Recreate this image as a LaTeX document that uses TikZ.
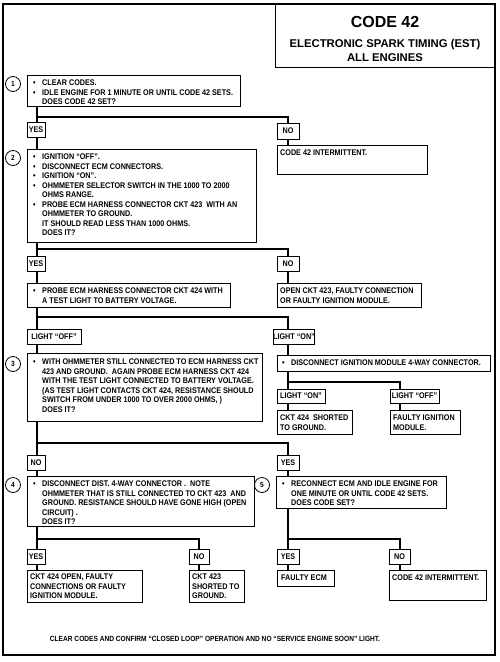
\documentclass[tikz,border=0pt]{standalone}
\usepackage{fontspec}
\setmainfont{Liberation Sans}[FakeStretch=0.88]
\newfontfamily\titlefont{Liberation Sans}
\usetikzlibrary{calc}
\newcommand\bl{\makebox[9pt][l]{\textbullet}}
\newcommand\ind{\hspace*{9pt}}
\newcommand\bx[5]{\node[box, minimum width={#4-#2}, minimum height={#5-#3}] (#1) at ({(#2+#4)/2},{(#3+#5)/2}) {};}
\newcommand\lb[6]{\node[box, font=\bodyfont, minimum width={#4-#2}, minimum height={#5-#3}] (#1) at ({(#2+#4)/2},{(#3+#5)/2}) {#6};}
\newcommand\bodyfont{\fontsize{8.2}{9.5}\selectfont\bfseries}
\begin{document}
\begin{tikzpicture}[x=1pt,y=-1pt,
  box/.style={draw, line width=0.8pt, inner sep=0pt, rectangle},
  conn/.style={line width=2pt},
  txt/.style={inner sep=0pt, anchor=north west, align=left, font=\bodyfont},
  num/.style={draw, circle, line width=0.8pt, minimum size=15pt, inner sep=0pt, font=\fontsize{7.5}{8}\selectfont\bfseries}]
\useasboundingbox (0,0) rectangle (500,662);
% frame and title
\draw[line width=1.2pt] (3,4) rectangle (495,655);
\draw[line width=0.9pt] (275,4) -- (275,67) -- (495,67);
\node[font={\titlefont\fontsize{16}{18}\selectfont\bfseries}] (t1) at (385,22) {CODE 42};
\node[font={\titlefont\fontsize{11.3}{13}\selectfont\bfseries}] (t2) at (385,45) {ELECTRONIC SPARK TIMING (EST)};
\node[font={\titlefont\fontsize{11.3}{13}\selectfont\bfseries}] (t3) at (385,58) {ALL ENGINES};
% column coordinates
\coordinate (L) at (37,0);
\coordinate (R) at (288,0);
\coordinate (M) at (400,0);
\coordinate (N) at (199,0);
% step 1
\node[num] (c1) at (13,84) {1};
\bx{b1}{27}{75}{240}{106}
\node[txt] (tb1) at (33,80) {\bl CLEAR CODES.\\ \bl IDLE ENGINE FOR 1 MINUTE OR UNTIL CODE 42 SETS.\\ \ind DOES CODE 42 SET?};
\lb{yes1}{27}{122}{45}{137}{YES}
\lb{no1}{277}{123}{299}{139}{NO}
\bx{r1}{277}{145}{427}{174}
\node[txt] (tr1) at (280,150) {CODE 42 INTERMITTENT.};
\coordinate (h1) at (0,117);
\draw[conn] (b1.south -| L) -- (yes1.north -| L);
\draw[conn] (h1 -| L) -- (h1 -| R) -- (no1.north -| R);
\draw[conn] (no1.south -| R) -- (r1.north -| R);
% step 2
\node[num] (c2) at (13,158) {2};
\bx{b2}{27}{149}{256}{242}
\node[txt] (tb2) at (33,154) {\bl IGNITION ``OFF''.\\ \bl DISCONNECT ECM CONNECTORS.\\ \bl IGNITION ``ON''.\\ \bl OHMMETER SELECTOR SWITCH IN THE 1000 TO 2000\\ \ind OHMS RANGE.\\ \bl PROBE ECM HARNESS CONNECTOR CKT 423 \ WITH AN\\ \ind OHMMETER TO GROUND.\\ \ind IT SHOULD READ LESS THAN 1000 OHMS.\\ \ind DOES IT?};
\draw[conn] (yes1.south -| L) -- (b2.north -| L);
\lb{yes2}{27}{256}{45}{271}{YES}
\lb{no2}{277}{256}{299}{271}{NO}
\coordinate (h2) at (0,249);
\draw[conn] (b2.south -| L) -- (yes2.north -| L);
\draw[conn] (h2 -| L) -- (h2 -| R) -- (no2.north -| R);
% probe and open
\bx{p1}{27}{283}{230}{307}
\node[txt] (tp1) at (33,288) {\bl PROBE ECM HARNESS CONNECTOR CKT 424 WITH\\ \ind A TEST LIGHT TO BATTERY VOLTAGE.};
\bx{o1}{277}{283}{421}{307}
\node[txt] (to1) at (280,288) {OPEN CKT 423, FAULTY CONNECTION\\ OR FAULTY IGNITION MODULE.};
\draw[conn] (yes2.south -| L) -- (p1.north -| L);
\draw[conn] (no2.south -| R) -- (o1.north -| R);
\coordinate (h3) at (0,317);
\lb{loff1}{27}{329}{81}{344}{LIGHT ``OFF''}
\lb{lon1}{277}{329}{311}{344}{LIGHT ``ON''}
\draw[conn] (p1.south -| L) -- (loff1.north -| L);
\draw[conn] (h3 -| L) -- (h3 -| R) -- (lon1.north -| R);
% step 3
\node[num] (c3) at (13,364) {3};
\bx{b3}{27}{353}{262}{421}
\node[txt] (tb3) at (33,359) {\bl WITH OHMMETER STILL CONNECTED TO ECM HARNESS CKT\\ \ind 423 AND GROUND. \ AGAIN PROBE ECM HARNESS CKT 424\\ \ind WITH THE TEST LIGHT CONNECTED TO BATTERY VOLTAGE.\\ \ind (AS TEST LIGHT CONTACTS CKT 424, RESISTANCE SHOULD\\ \ind SWITCH FROM UNDER 1000 TO OVER 2000 OHMS, )\\ \ind DOES IT?};
\draw[conn] (loff1.south -| L) -- (b3.north -| L);
\bx{d1}{277}{355}{490}{371}
\node[txt] (td1) at (282,360) {\bl DISCONNECT IGNITION MODULE 4-WAY CONNECTOR.};
\draw[conn] (lon1.south -| R) -- (d1.north -| R);
\lb{lon2}{277}{389}{325}{403}{LIGHT ``ON''}
\lb{loff2}{390}{389}{439}{403}{LIGHT ``OFF''}
\coordinate (h4) at (0,382);
\draw[conn] (d1.south -| R) -- (lon2.north -| R);
\draw[conn] (h4 -| R) -- (h4 -| M) -- (loff2.north -| M);
\bx{s424}{277}{410}{352}{434}
\node[txt] (ts424) at (280,415) {CKT 424 \ SHORTED\\ TO GROUND.};
\bx{fim}{390}{410}{460}{434}
\node[txt] (tfim) at (393,415) {FAULTY IGNITION\\ MODULE.};
\draw[conn] (lon2.south -| R) -- (s424.north -| R);
\draw[conn] (loff2.south -| M) -- (fim.north -| M);
% branch after step 3
\coordinate (h5) at (0,443);
\lb{no3}{27}{455}{45}{470}{NO}
\lb{yes3}{277}{455}{299}{470}{YES}
\draw[conn] (b3.south -| L) -- (no3.north -| L);
\draw[conn] (h5 -| L) -- (h5 -| R) -- (yes3.north -| R);
% step 4
\node[num] (c4) at (13,485) {4};
\bx{b4}{27}{476}{254}{526}
\node[txt] (tb4) at (33,481) {\bl DISCONNECT DIST. 4-WAY CONNECTOR . \ NOTE\\ \ind OHMMETER THAT IS STILL CONNECTED TO CKT 423 \ AND\\ \ind GROUND. RESISTANCE SHOULD HAVE GONE HIGH (OPEN\\ \ind CIRCUIT) .\\ \ind DOES IT?};
\draw[conn] (no3.south -| L) -- (b4.north -| L);
% step 5
\node[num] (c5) at (262,485) {5};
\bx{b5}{276}{476}{446}{508}
\node[txt] (tb5) at (282,481) {\bl RECONNECT ECM AND IDLE ENGINE FOR\\ \ind ONE MINUTE OR UNTIL CODE 42 SETS.\\ \ind DOES CODE SET?};
\draw[conn] (yes3.south -| R) -- (b5.north -| R);
% final branches
\coordinate (h6) at (0,539);
\lb{yes4}{27}{549}{45}{564}{YES}
\lb{no4}{189}{549}{209}{564}{NO}
\lb{yes5}{277}{549}{299}{564}{YES}
\lb{no5}{389}{549}{410}{564}{NO}
\draw[conn] (b4.south -| L) -- (yes4.north -| L);
\draw[conn] (h6 -| L) -- (h6 -| N) -- (no4.north -| N);
\draw[conn] (b5.south -| R) -- (yes5.north -| R);
\draw[conn] (h6 -| R) -- (h6 -| M) -- (no5.north -| M);
\bx{o424}{27}{570}{142}{602}
\node[txt] (to424) at (30,574) {CKT 424 OPEN, FAULTY\\ CONNECTIONS OR FAULTY\\ IGNITION MODULE.};
\bx{s423}{189}{570}{244}{602}
\node[txt] (ts423) at (192,574) {CKT 423\\ SHORTED TO\\ GROUND.};
\bx{fecm}{277}{570}{334}{586}
\node[txt] (tfecm) at (281,575) {FAULTY ECM};
\bx{int2}{389}{570}{486}{600}
\node[txt] (tint2) at (392,575) {CODE 42 INTERMITTENT.};
\draw[conn] (yes4.south -| L) -- (o424.north -| L);
\draw[conn] (no4.south -| N) -- (s423.north -| N);
\draw[conn] (yes5.south -| R) -- (fecm.north -| R);
\draw[conn] (no5.south -| M) -- (int2.north -| M);
% footer
\node[font=\fontsize{7.5}{9}\selectfont\bfseries] (foot) at (215,639) {CLEAR CODES AND CONFIRM ``CLOSED LOOP'' OPERATION AND NO ``SERVICE ENGINE SOON'' LIGHT.};
\end{tikzpicture}
\end{document}
